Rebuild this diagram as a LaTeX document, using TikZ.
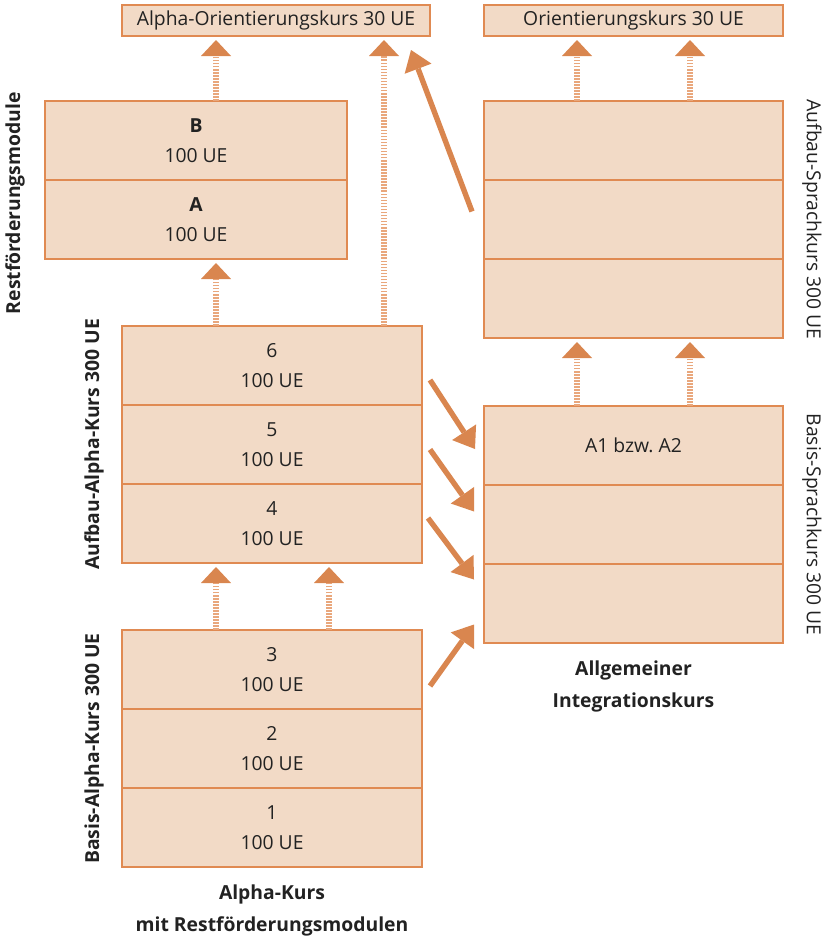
\documentclass[tikz,border=0pt]{standalone}
\usepackage{fontspec}
\setmainfont{Open Sans}
\usetikzlibrary{arrows.meta, positioning, calc}
\definecolor{boxc}{HTML}{F2DAC6}
\definecolor{linec}{HTML}{E08A52}
\definecolor{arrowc}{HTML}{D9864F}
\definecolor{shaftc}{HTML}{E9A77C}
\definecolor{txtc}{HTML}{222222}

\begin{document}
\begin{tikzpicture}[
    node distance=0pt,
    row/.style={draw=linec, line width=1pt, fill=boxc, minimum width=9cm, minimum height=2.37cm, inner sep=0pt, outer sep=0pt, align=center, text=txtc, font=\fontsize{16.5}{26}\selectfont},
    topbox/.style={draw=linec, line width=1pt, fill=boxc, minimum height=0.93cm, inner sep=0pt, outer sep=0pt, text=txtc, font=\fontsize{16.5}{18}\selectfont},
    dotarrow/.style={draw=shaftc, line width=4.3pt, dash pattern=on 1.3pt off 1.3pt, shorten >=0.12cm, -{Triangle[width=0.9cm, length=0.48cm, line width=0pt, color=arrowc]}},
    arrow/.style={draw=arrowc, line width=4.6pt, -{Triangle[width=0.86cm, length=0.6cm, line width=0pt]}},
    lbl/.style={text=txtc, font=\fontsize{16.5}{18}\selectfont\bfseries},
    side/.style={text=txtc, font=\fontsize{16.5}{18}\selectfont}
  ]
  \useasboundingbox (0,0) rectangle (24.9,-28.14);

  % Orientierungskurse
  \node[topbox, minimum width=9.24cm] (aok) at (8.28,-0.615) {Alpha-Orientierungskurs 30 UE};
  \node[topbox, minimum width=8.97cm] (ok) at (19.005,-0.615) {Orientierungskurs 30 UE};

  % Restfoerderungsmodule
  \node[row, minimum width=9.06cm] (rB) at (5.88,-4.215) {\textbf{B}\\100 UE};
  \node[row, minimum width=9.06cm, below=of rB] (rA) {\textbf{A}\\100 UE};

  % Aufbau-Alpha-Kurs
  \node[row] (a6) at (8.16,-10.965) {6\\100 UE};
  \node[row, below=of a6] (a5) {5\\100 UE};
  \node[row, below=of a5] (a4) {4\\100 UE};

  % Basis-Alpha-Kurs
  \node[row] (b3) at (8.16,-20.085) {3\\100 UE};
  \node[row, below=of b3] (b2) {2\\100 UE};
  \node[row, below=of b2] (b1) {1\\100 UE};

  % Aufbau-Sprachkurs
  \node[row, minimum width=8.97cm] (s3) at (19.005,-4.215) {};
  \node[row, minimum width=8.97cm, below=of s3] (s2) {};
  \node[row, minimum width=8.97cm, below=of s2] (s1) {};

  % Basis-Sprachkurs
  \node[row, minimum width=8.97cm] (i3) at (19.005,-13.365) {A1 bzw.\ A2};
  \node[row, minimum width=8.97cm, below=of i3] (i2) {};
  \node[row, minimum width=8.97cm, below=of i2] (i1) {};

  % Side labels
  \node[lbl, rotate=90] (lrest) at (0.45,-6.1) {Restförderungsmodule};
  \node[lbl, rotate=90, left=0.42cm of a5, anchor=south] (laufa) {Aufbau-Alpha-Kurs 300 UE};
  \node[lbl, rotate=90, left=0.42cm of b2, anchor=south] (lbasa) {Basis-Alpha-Kurs 300 UE};
  \node[side, rotate=-90, right=0.45cm of s2, anchor=south] (lauf) {Aufbau-Sprachkurs 300 UE};
  \node[side, rotate=-90, right=0.45cm of i2, anchor=south] (lbas) {Basis-Sprachkurs 300 UE};

  % Bottom labels
  \node[lbl, align=center, below=0.4cm of b1, font=\fontsize{16.5}{28}\selectfont\bfseries] (lalpha) {Alpha-Kurs\\mit Restförderungsmodulen};
  \node[lbl, align=center, below=0.4cm of i1, font=\fontsize{16.5}{28}\selectfont\bfseries] (linteg) {Allgemeiner\\Integrationskurs};

  % Dotted arrows
  \draw[dotarrow] ([xshift=0.6cm]rB.north) -- ([xshift=0.6cm]rB.north |- aok.south);
  \draw[dotarrow] ([xshift=3.36cm]a6.north) -- ([xshift=3.36cm]a6.north |- aok.south);
  \draw[dotarrow] ([xshift=-1.68cm]a6.north) -- ([xshift=-1.68cm]a6.north |- rA.south);
  \draw[dotarrow] ([xshift=-1.68cm]b3.north) -- ([xshift=-1.68cm]b3.north |- a4.south);
  \draw[dotarrow] ([xshift=1.71cm]b3.north) -- ([xshift=1.71cm]b3.north |- a4.south);
  \draw[dotarrow] ([xshift=-1.695cm]s3.north) -- ([xshift=-1.695cm]s3.north |- ok.south);
  \draw[dotarrow] ([xshift=1.695cm]s3.north) -- ([xshift=1.695cm]s3.north |- ok.south);
  \draw[dotarrow] ([xshift=-1.695cm]i3.north) -- ([xshift=-1.695cm]i3.north |- s1.south);
  \draw[dotarrow] ([xshift=1.695cm]i3.north) -- ([xshift=1.695cm]i3.north |- s1.south);

  % Solid arrows
  \draw[arrow] ($(a6.east)+(0.24,-0.435)$) -- ($(i3.west)+(-0.27,-0.105)$);
  \draw[arrow] ($(a5.east)+(0.24,-0.15)$) -- ($(i2.west)+(-0.3,0.39)$);
  \draw[arrow] ($(a4.east)+(0.18,0.165)$) -- ($(i1.west)+(-0.3,0.72)$);
  \draw[arrow] ($(b3.east)+(0.24,-0.495)$) -- ($(i1.west)+(-0.3,-0.63)$);
  \draw[arrow] ($(s2.west)+(-0.36,0.24)$) -- ($(aok.east)+(-0.57,-0.885)$);

\end{tikzpicture}
\end{document}
